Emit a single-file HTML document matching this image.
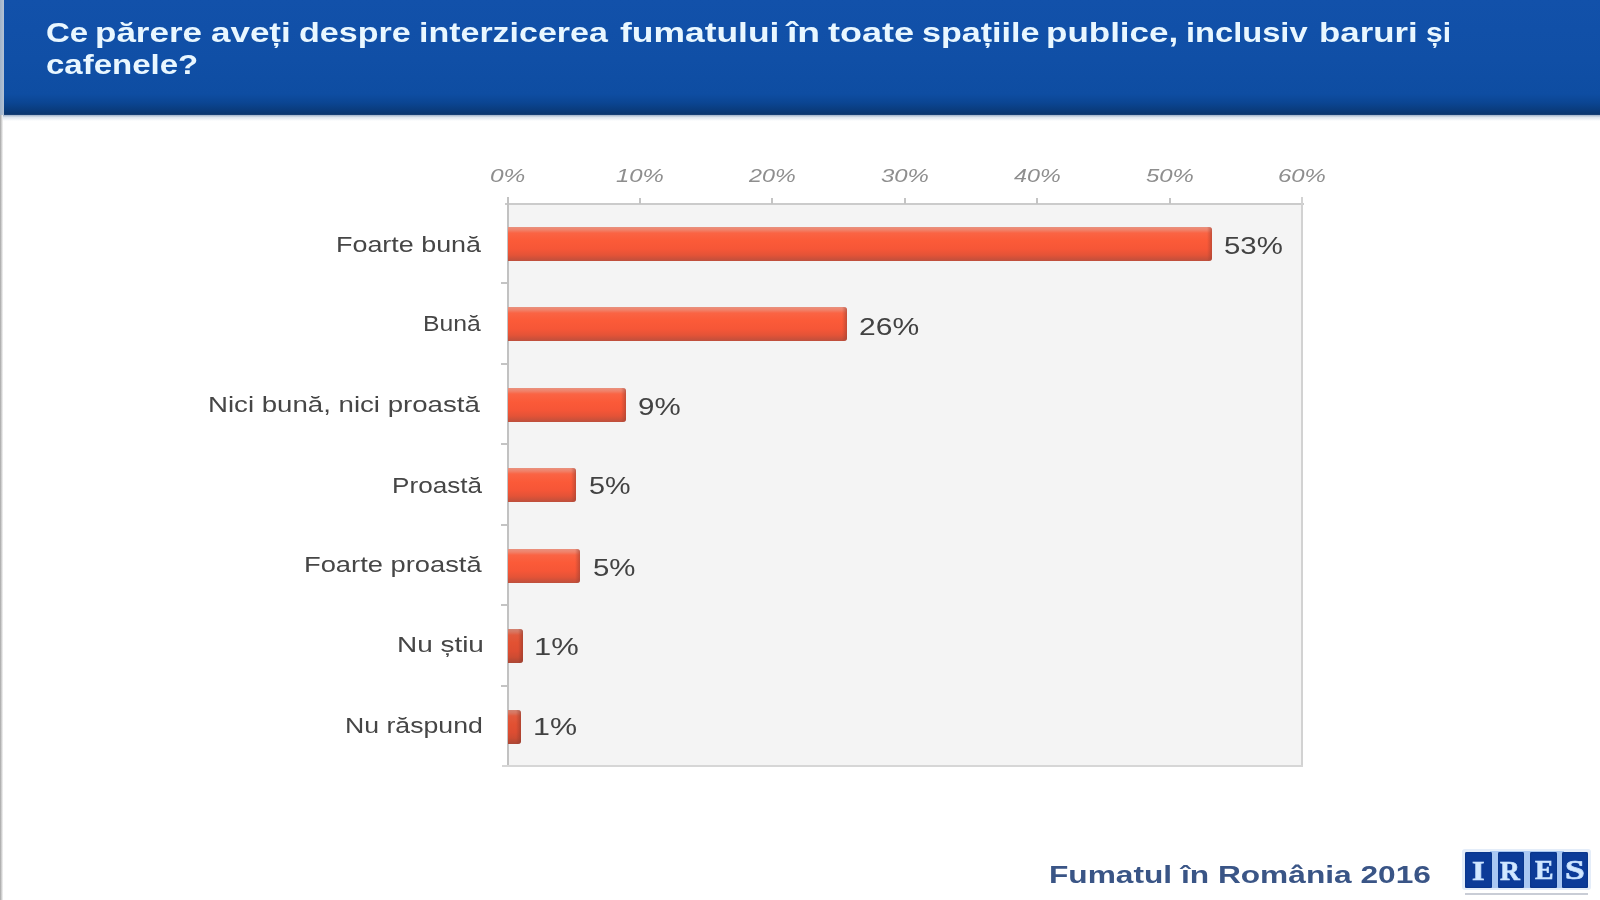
<!DOCTYPE html>
<html><head><meta charset="utf-8">
<style>
html,body{margin:0;padding:0;width:1600px;height:900px;overflow:hidden;background:#fff;}
.a{position:absolute;}
.tx{position:absolute;white-space:nowrap;font-family:"Liberation Sans",sans-serif;line-height:1;transform-origin:0 0;}
.bar{position:absolute;left:507.5px;height:34px;border-radius:0 3px 3px 0;
 background:linear-gradient(180deg,#e9917e 0px,#f0826a 3px,#fa6444 6px,#fb5a38 14px,#f65637 22px,#e45337 28px,#bd4f3c 34px);}
.bar:after{content:"";position:absolute;right:0;top:0;width:5px;height:100%;border-radius:0 3px 3px 0;
 background:linear-gradient(90deg,rgba(170,70,50,0),rgba(160,65,50,.6));}
.tk{position:absolute;background:#c4c4c4;}
.box{position:absolute;top:852px;height:35.5px;background:#0c3b98;border-radius:1.5px;box-shadow:inset 0 0 2px #072a70;}
.lt{position:absolute;font-family:"Liberation Serif",serif;font-weight:bold;color:#d3e8ff;-webkit-text-stroke:0.7px #c5e0ff;line-height:1;transform-origin:0 0;}
</style></head><body>

<div class="a" style="left:0;top:0;width:3px;height:900px;background:linear-gradient(90deg,#a3a3a3,#d8d8d8 60%,#f6f6f6);"></div>
<div class="a" style="left:0;top:0;width:4px;height:115px;background:linear-gradient(90deg,#9fb2c9,#b4c3d6);"></div>
<div class="a" style="left:4px;top:0;width:1596px;height:115px;background:linear-gradient(180deg,#1251aa 0px,#104fa6 60px,#0e4da2 94px,#0b4592 103px,#0a3d80 109px,#0a3670 114px,#23487a 115px);"></div>
<div class="a" style="left:3px;top:115px;width:1597px;height:6px;background:linear-gradient(180deg,#9fb1c9,#dfe6ef 40%,#fff);"></div>
<span class="tx" style="left:45.72px;top:18.5px;font-size:28px;transform:scaleX(1.1765);color:#e9f7ff;font-weight:bold">Ce</span>
<span class="tx" style="left:95.0px;top:18.5px;font-size:28px;transform:scaleX(1.25);color:#e9f7ff;font-weight:bold">părere</span>
<span class="tx" style="left:210.65px;top:18.5px;font-size:28px;transform:scaleX(1.2492);color:#e9f7ff;font-weight:bold">aveți</span>
<span class="tx" style="left:299.38px;top:18.5px;font-size:28px;transform:scaleX(1.2156);color:#e9f7ff;font-weight:bold">despre</span>
<span class="tx" style="left:419.47px;top:18.5px;font-size:28px;transform:scaleX(1.2133);color:#e9f7ff;font-weight:bold">interzicerea</span>
<span class="tx" style="left:620.0px;top:18.5px;font-size:28px;transform:scaleX(1.2653);color:#e9f7ff;font-weight:bold">fumatului</span>
<span class="tx" style="left:786.93px;top:18.5px;font-size:28px;transform:scaleX(1.3292);color:#e9f7ff;font-weight:bold">în</span>
<span class="tx" style="left:827.5px;top:18.5px;font-size:28px;transform:scaleX(1.2879);color:#e9f7ff;font-weight:bold">toate</span>
<span class="tx" style="left:921.88px;top:18.5px;font-size:28px;transform:scaleX(1.2174);color:#e9f7ff;font-weight:bold">spațiile</span>
<span class="tx" style="left:1046.25px;top:18.5px;font-size:28px;transform:scaleX(1.25);color:#e9f7ff;font-weight:bold">publice,</span>
<span class="tx" style="left:1185.67px;top:18.5px;font-size:28px;transform:scaleX(1.1657);color:#e9f7ff;font-weight:bold">inclusiv</span>
<span class="tx" style="left:1318.51px;top:18.5px;font-size:28px;transform:scaleX(1.2434);color:#e9f7ff;font-weight:bold">baruri</span>
<span class="tx" style="left:1426.43px;top:18.5px;font-size:28px;transform:scaleX(1.0714);color:#e9f7ff;font-weight:bold">și</span>
<span class="tx" style="left:46.12px;top:51.3px;font-size:28px;transform:scaleX(1.1787);color:#e9f7ff;font-weight:bold">cafenele?</span>
<div class="a" style="left:507px;top:203px;width:795px;height:563px;background:#f4f4f4;"></div>
<div class="a" style="left:505px;top:202.5px;width:799px;height:2px;background:#cbcbcb;"></div>
<div class="a" style="left:506.5px;top:197px;width:2px;height:570px;background:#c2c2c2;"></div>
<div class="a" style="left:1301px;top:197px;width:2px;height:570px;background:#d2d2d2;"></div>
<div class="a" style="left:502px;top:765px;width:801px;height:2px;background:#d6d6d6;"></div>
<div class="tk" style="left:638.95px;top:197.5px;width:2px;height:6px;"></div>
<div class="tk" style="left:771.40px;top:197.5px;width:2px;height:6px;"></div>
<div class="tk" style="left:903.85px;top:197.5px;width:2px;height:6px;"></div>
<div class="tk" style="left:1036.30px;top:197.5px;width:2px;height:6px;"></div>
<div class="tk" style="left:1168.75px;top:197.5px;width:2px;height:6px;"></div>
<div class="tk" style="left:501px;top:282.43px;width:6px;height:2px;"></div>
<div class="tk" style="left:501px;top:362.86px;width:6px;height:2px;"></div>
<div class="tk" style="left:501px;top:443.29px;width:6px;height:2px;"></div>
<div class="tk" style="left:501px;top:523.72px;width:6px;height:2px;"></div>
<div class="tk" style="left:501px;top:604.15px;width:6px;height:2px;"></div>
<div class="tk" style="left:501px;top:684.58px;width:6px;height:2px;"></div>
<span class="tx" style="left:489.73px;top:165.5px;font-size:19.25px;transform:scaleX(1.2692);color:#8e8e8e;font-style:italic">0%</span>
<span class="tx" style="left:615.71px;top:165.5px;font-size:19.25px;transform:scaleX(1.2432);color:#8e8e8e;font-style:italic">10%</span>
<span class="tx" style="left:749.4px;top:165.5px;font-size:19.25px;transform:scaleX(1.2105);color:#8e8e8e;font-style:italic">20%</span>
<span class="tx" style="left:880.61px;top:165.5px;font-size:19.25px;transform:scaleX(1.2432);color:#8e8e8e;font-style:italic">30%</span>
<span class="tx" style="left:1014.3px;top:165.5px;font-size:19.25px;transform:scaleX(1.2105);color:#8e8e8e;font-style:italic">40%</span>
<span class="tx" style="left:1145.51px;top:165.5px;font-size:19.25px;transform:scaleX(1.2432);color:#8e8e8e;font-style:italic">50%</span>
<span class="tx" style="left:1277.96px;top:165.5px;font-size:19.25px;transform:scaleX(1.2432);color:#8e8e8e;font-style:italic">60%</span>
<div class="bar" style="top:226.50px;width:704.40px"></div>
<div class="bar" style="top:307.00px;width:339.50px"></div>
<div class="bar" style="top:387.50px;width:118.50px"></div>
<div class="bar" style="top:468.00px;width:68.00px"></div>
<div class="bar" style="top:548.50px;width:72.50px"></div>
<div class="bar" style="top:629.00px;width:15.50px;filter:brightness(0.9)"></div>
<div class="bar" style="top:709.50px;width:13.10px;filter:brightness(0.9)"></div>
<span class="tx" style="left:335.56px;top:233.5px;font-size:22px;transform:scaleX(1.2222);color:#464646;">Foarte bună</span>
<span class="tx" style="left:423.0px;top:313.0px;font-size:22px;transform:scaleX(1.125);color:#464646;">Bună</span>
<span class="tx" style="left:208.49px;top:393.5px;font-size:22px;transform:scaleX(1.2558);color:#464646;">Nici bună, nici proastă</span>
<span class="tx" style="left:391.92px;top:474.9px;font-size:22px;transform:scaleX(1.1878);color:#464646;">Proastă</span>
<span class="tx" style="left:303.92px;top:554.2px;font-size:22px;transform:scaleX(1.2411);color:#464646;">Foarte proastă</span>
<span class="tx" style="left:397.46px;top:634.0px;font-size:22px;transform:scaleX(1.2692);color:#464646;">Nu știu</span>
<span class="tx" style="left:345.08px;top:715.2px;font-size:22px;transform:scaleX(1.2117);color:#464646;">Nu răspund</span>
<span class="tx" style="left:1224.38px;top:233.6px;font-size:24px;transform:scaleX(1.2239);color:#424242;">53%</span>
<span class="tx" style="left:858.75px;top:315.0px;font-size:24px;transform:scaleX(1.2522);color:#424242;">26%</span>
<span class="tx" style="left:638.27px;top:394.5px;font-size:24px;transform:scaleX(1.2273);color:#424242;">9%</span>
<span class="tx" style="left:589.3px;top:474.25px;font-size:24px;transform:scaleX(1.197);color:#424242;">5%</span>
<span class="tx" style="left:592.78px;top:555.75px;font-size:24px;transform:scaleX(1.2242);color:#424242;">5%</span>
<span class="tx" style="left:533.67px;top:635.4px;font-size:24px;transform:scaleX(1.2891);color:#424242;">1%</span>
<span class="tx" style="left:532.76px;top:715.4px;font-size:24px;transform:scaleX(1.2688);color:#424242;">1%</span>
<span class="tx" style="left:1048.64px;top:862.5px;font-size:24.25px;transform:scaleX(1.306);color:#3a5586;font-weight:bold">Fumatul în România 2016</span>
<div class="a" style="left:1462px;top:849px;width:129px;height:41px;background:#e4edf9;border-radius:3px;"></div>
<div class="a" style="left:1490px;top:851px;width:74px;height:37px;background:#a9c7f2;"></div>
<div class="box" style="left:1465px;width:27px;"></div>
<div class="box" style="left:1498px;width:26px;"></div>
<div class="box" style="left:1530px;width:26.5px;"></div>
<div class="box" style="left:1562px;width:26px;"></div>
<div class="a" style="left:1465px;top:892.5px;width:123px;height:2px;background:#c9cdd6;"></div>
<span class="lt" style="left:1471.78px;top:857.5px;font-size:26.5px;transform:scaleX(1.222);">I</span>
<span class="lt" style="left:1500.3px;top:857.5px;font-size:26.5px;transform:scaleX(1.035);">R</span>
<span class="lt" style="left:1535.0px;top:857.0px;font-size:26.5px;transform:scaleX(1.047);">E</span>
<span class="lt" style="left:1564.66px;top:856.5px;font-size:26.5px;transform:scaleX(1.338);">S</span>
</body></html>
